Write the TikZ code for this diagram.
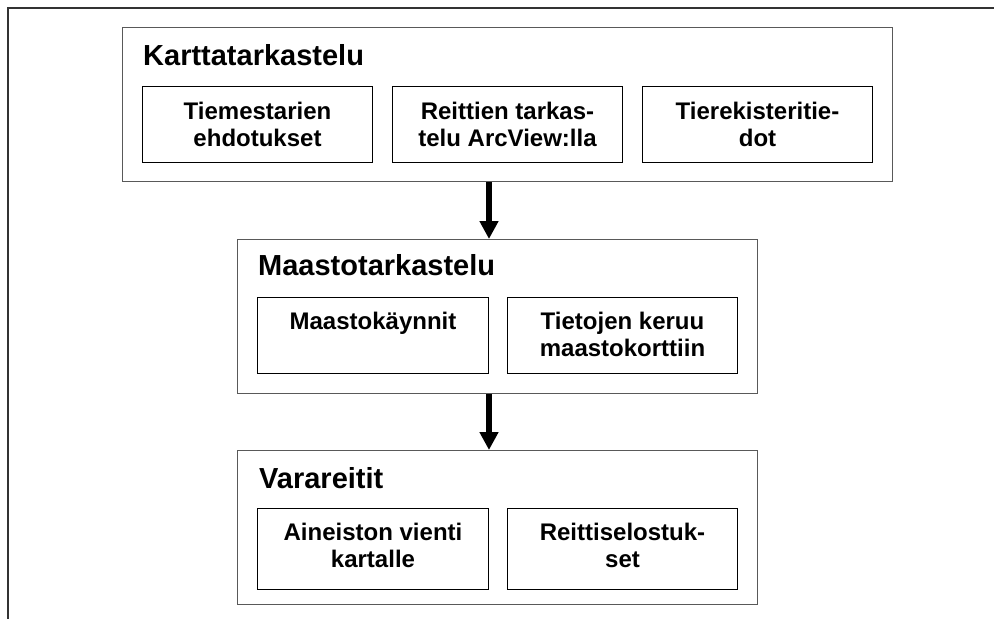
\documentclass[tikz,border=0pt]{standalone}
\usepackage{fontspec}
\setmainfont{Liberation Sans}
\usetikzlibrary{arrows.meta}
\newcommand{\twoline}[2]{\vtop{\halign{\hfil##\hfil\cr #1\cr #2\cr}}}
\tikzset{
  frameline/.style={draw=black!80, line width=1.3pt},
  outerbox/.style={draw=black!65, line width=1.4pt, rectangle, inner sep=0pt, anchor=north west},
  inbox/.style={draw=black, line width=1pt, rectangle, inner sep=0pt, anchor=north west},
  titletext/.style={font=\bfseries\fontsize{29}{33}\selectfont, inner sep=0pt, anchor=base west},
  intext/.style={font=\bfseries\fontsize{24}{27}\selectfont, inner sep=0pt, anchor=base},
  bigarrow/.style={line width=6pt, -{Triangle[width=18pt,length=18pt]}}
}
\begin{document}
\begin{tikzpicture}[x=1pt,y=-1pt]
\useasboundingbox (0,0) rectangle (994,619);
% partial frame
\coordinate (ftl) at (8,8);
\coordinate (ftr) at (994,8);
\coordinate (fbl) at (8,619);
\draw[frameline] (ftr) -- (ftl) -- (fbl);

% Box 1
\node[outerbox, minimum width=770pt, minimum height=154pt] (k) at (122,27) {};
\node[titletext] (kt) at (143,65) {Karttatarkastelu};
\node[inbox, minimum width=230pt, minimum height=76pt] (k1) at (142,86) {};
\node[inbox, minimum width=230pt, minimum height=76pt] (k2) at (392,86) {};
\node[inbox, minimum width=230pt, minimum height=76pt] (k3) at (642,86) {};
\node[intext] (k1t) at ([yshift=-33.5pt]k1.north) {\twoline{Tiemestarien}{ehdotukset}};
\node[intext] (k2t) at ([yshift=-33.5pt]k2.north) {\twoline{Reittien tarkas-}{telu ArcView:lla}};
\node[intext] (k3t) at ([yshift=-33.5pt]k3.north) {\twoline{Tierekisteritie-}{dot}};

% Box 2
\node[outerbox, minimum width=520pt, minimum height=154pt] (m) at (237,239) {};
\node[titletext] (mt) at (258,275) {Maastotarkastelu};
\node[inbox, minimum width=231pt, minimum height=76pt] (m1) at (257,297) {};
\node[inbox, minimum width=230pt, minimum height=76pt] (m2) at (507,297) {};
\node[intext] (m1t) at ([yshift=-32.5pt]m1.north) {Maastokäynnit};
\node[intext] (m2t) at ([yshift=-32.5pt]m2.north) {\twoline{Tietojen keruu}{maastokorttiin}};

% Box 3
\node[outerbox, minimum width=520pt, minimum height=154pt] (v) at (237,450) {};
\node[titletext] (vt) at (259,488) {Varareitit};
\node[inbox, minimum width=231pt, minimum height=81pt] (v1) at (257,508) {};
\node[inbox, minimum width=230pt, minimum height=81pt] (v2) at (507,508) {};
\node[intext] (v1t) at ([yshift=-32pt]v1.north) {\twoline{Aineiston vienti}{kartalle}};
\node[intext] (v2t) at ([yshift=-32pt]v2.north) {\twoline{Reittiselostuk-}{set}};

% arrows
\draw[bigarrow] (k.south -| m1.east) -- (m.north -| m1.east);
\draw[bigarrow] (m.south -| m1.east) -- (v.north -| m1.east);
\end{tikzpicture}
\end{document}
